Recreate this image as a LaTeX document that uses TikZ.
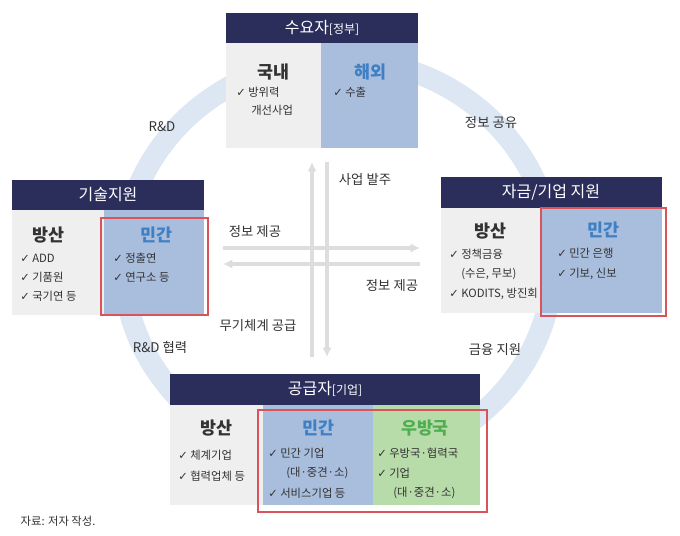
\documentclass[tikz,border=0pt]{standalone}
\usepackage{fontspec}
\usetikzlibrary{arrows.meta}
\setmainfont{Noto Sans CJK KR}
\newfontfamily\dv{DejaVu Sans}
\definecolor{hdr}{HTML}{2B2D5A}
\definecolor{gbg}{HTML}{EFEFEF}
\definecolor{bbg}{HTML}{A9BEDD}
\definecolor{grbg}{HTML}{B8DBAA}
\definecolor{btx}{HTML}{3F7FC4}
\definecolor{gtx}{HTML}{4FAF50}
\definecolor{ring}{HTML}{DCE7F3}
\definecolor{arr}{HTML}{DDDDDD}
\definecolor{redb}{HTML}{D9545A}
\definecolor{txt}{HTML}{333333}
\newcommand{\ck}{{\dv\char"2713}\ }
\tikzset{
  hd/.style={fill=hdr,draw=none},
  hdt/.style={text=white,font=\fontsize{12}{14}\selectfont},
  ttl/.style={font=\fontsize{13}{15}\selectfont\bfseries,text=txt},
  itm/.style={anchor=west,font=\fontsize{8.5}{10}\selectfont,text=txt,inner sep=0pt},
  lbl/.style={font=\fontsize{10}{12}\selectfont,text=txt},
  redbox/.style={draw=redb,line width=1pt},
  ar/.style={draw=arr,line width=2.5pt,-{Latex[length=7pt,width=7pt]}}
}
\begin{document}
\begin{tikzpicture}[x=0.75pt,y=-0.75pt]
\useasboundingbox (0,0) rectangle (680,535);
\fill[white] (0,0) rectangle (680,535);
\draw[ring,line width=16pt] (338,262) ellipse [x radius=215, y radius=203];
% arrows
\coordinate (vt1) at (312,162); \coordinate (vb1) at (312,357);
\coordinate (vt2) at (327,162); \coordinate (vb2) at (327,357);
\coordinate (hl1) at (223,248); \coordinate (hr1) at (420,248);
\coordinate (hl2) at (223,264); \coordinate (hr2) at (420,264);
\draw[ar] (vb1) -- (vt1);
\draw[ar] (vt2) -- (vb2);
\draw[ar] (hl1) -- (hr1);
\draw[ar] (hr2) -- (hl2);
% top box
\fill[gbg] (226,43) rectangle (321,148);
\fill[bbg] (321,43) rectangle (418,148);
\fill[hd] (226,13) rectangle (418,43);
\node[hdt] (th) at (322,28) {수요자{\fontsize{9}{10}\selectfont[정부]}};
\node[ttl] (t1) at (273,72) {국내};
\node[ttl,text=btx] (t2) at (370,72) {해외};
\node[itm] at (236,92) {\ck 방위력};
\node[itm] at (251,110) {개선사업};
\node[itm] at (333,92) {\ck 수출};
% left box
\fill[gbg] (12,210) rectangle (104,315);
\fill[bbg] (104,210) rectangle (204,315);
\fill[hd] (12,180) rectangle (204,210);
\node[hdt] (lh) at (108,195) {기술지원};
\node[ttl] at (48,235) {방산};
\node[ttl,text=btx] at (156,235) {민간};
\node[itm] at (20,258) {\ck ADD};
\node[itm] at (20,277) {\ck 기품원};
\node[itm] at (20,296) {\ck 국기연 등};
\node[itm] at (113,258) {\ck 정출연};
\node[itm] at (113,277) {\ck 연구소 등};
\draw[redbox] (101,218) rectangle (208,315);
% right box
\fill[gbg] (441,208) rectangle (541,313);
\fill[bbg] (541,208) rectangle (662,313);
\fill[hd] (441,177) rectangle (662,208);
\node[hdt] (rh) at (551,192) {자금/기업 지원};
\node[ttl] at (490,231) {방산};
\node[ttl,text=btx] at (603,230) {민간};
\node[itm] at (449,254) {\ck 정책금융};
\node[itm] at (461,274) {(수은, 무보)};
\node[itm] at (449,294) {\ck KODITS, 방진회};
\node[itm] at (557,253) {\ck 민간 은행};
\node[itm] at (557,274) {\ck 기보, 신보};
\draw[redbox] (541,208) rectangle (666,316);
% bottom box
\fill[gbg] (170,405) rectangle (263,505);
\fill[bbg] (263,405) rectangle (373,505);
\fill[grbg] (373,405) rectangle (480,505);
\fill[hd] (170,374) rectangle (480,405);
\node[hdt] (bh) at (325,389) {공급자{\fontsize{9}{10}\selectfont[기업]}};
\node[ttl] at (216,428) {방산};
\node[ttl,text=btx] at (318,428) {민간};
\node[ttl,text=gtx] at (425,428) {우방국};
\node[itm] at (178,455) {\ck 체계기업};
\node[itm] at (178,476) {\ck 협력업체 등};
\node[itm] at (268,453) {\ck 민간 기업};
\node[itm] at (286,473) {(대·중견·소)};
\node[itm] at (268,493) {\ck 서비스기업 등};
\node[itm] at (377,453) {\ck 우방국·협력국};
\node[itm] at (377,473) {\ck 기업};
\node[itm] at (393,493) {(대·중견·소)};
\draw[redbox] (258,410) rectangle (487,512);
% labels
\node[lbl] at (162,127) {R\&D};
\node[lbl] at (491,123) {정보 공유};
\node[lbl] at (160,347) {R\&D 협력};
\node[lbl] at (495,349) {금융 지원};
\node[lbl] at (365,180) {사업 발주};
\node[lbl] at (255,232) {정보 제공};
\node[lbl] at (392,286) {정보 제공};
\node[lbl] at (258,326) {무기체계 공급};
\node[lbl,anchor=west,font=\fontsize{8.5}{10}\selectfont] at (16,521) {자료: 저자 작성.};
\end{tikzpicture}
\end{document}
